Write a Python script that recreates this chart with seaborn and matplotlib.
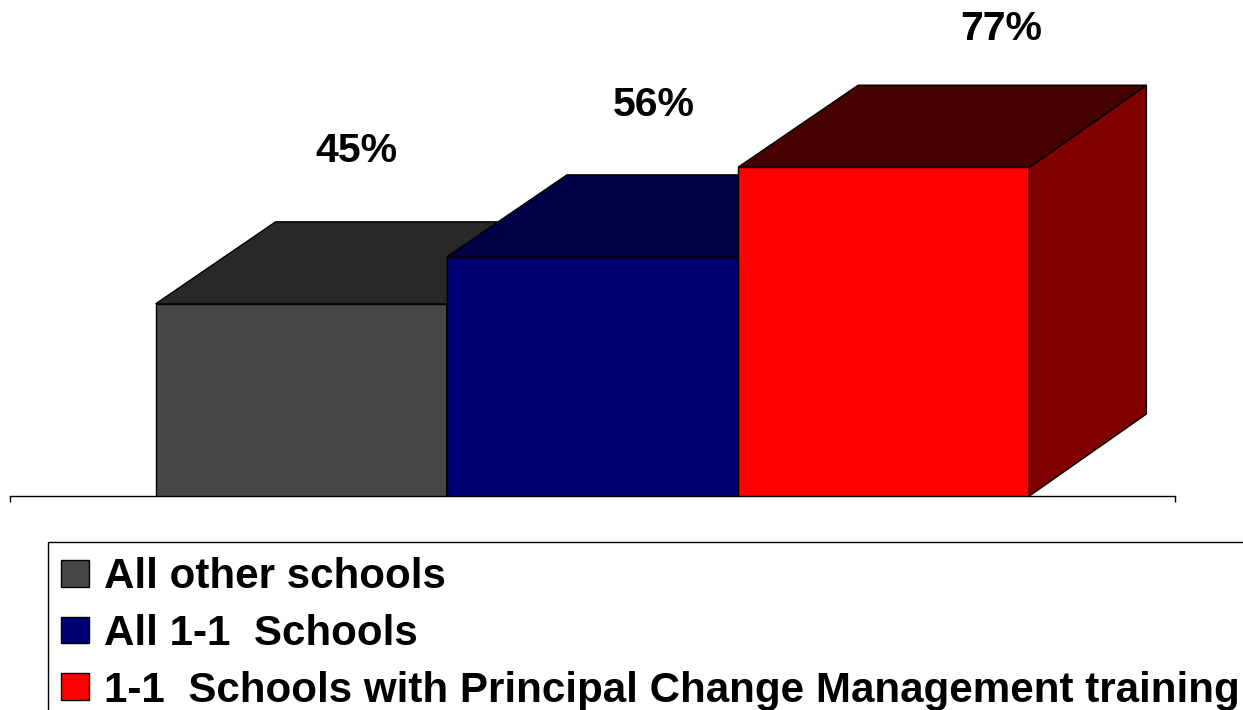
import pandas as pd
import matplotlib.pyplot as plt
from matplotlib.patches import Polygon, Rectangle
import seaborn as sns

# Values
groups = ["All other schools", "All 1-1  Schools", "1-1  Schools with Principal Change Management training"]
values = [45, 56, 77]
value_labels = ["45%", "56%", "77%"]

front_colors = ["#474747", "#000074", "#ff0000"]
top_colors = ["#282828", "#000047", "#470000"]
side_colors = ["#282828", "#000047", "#800000"]

W, H = 1243, 710

sns.set_style("white")
plt.rcParams["font.family"] = ["Liberation Sans", "DejaVu Sans"]
plt.rcParams["font.weight"] = "bold"
plt.rcParams["text.color"] = "black"

fig = plt.figure(figsize=(W / 100, H / 100), dpi=100)
# Axis line runs from x=10 to x=1175, baseline at y=496
ax = fig.add_axes([10 / W, (H - 496) / H, 1165 / W, 496 / H])
ax.patch.set_alpha(0)

df = pd.DataFrame({"cat": ["all"] * 3, "group": groups, "value": values})
sns.barplot(data=df, x="cat", y="value", hue="group", hue_order=groups, palette=front_colors,
            width=0.75, gap=0, saturation=1, edgecolor="black", linewidth=1, ax=ax)

ax.set_xlim(-0.5, 0.5)
ax.set_ylim(0, 496 / 4.27)
ax.set_xlabel("")
ax.set_ylabel("")
ax.set_yticks([])
ax.set_xticks([-0.5, 0.5])
ax.set_xticklabels(["", ""])
ax.tick_params(axis="x", direction="out", length=4, width=1, color="black", bottom=True)
for name in ["top", "left", "right"]:
    ax.spines[name].set_visible(False)
ax.spines["bottom"].set_linewidth(1)
ax.spines["bottom"].set_color("black")

# Fake 3D depth, same offset for every bar (back left corner sits a bit further over)
depth_x = 117 / 1165
depth_x_left = 120 / 1165
depth_y = 82 / 4.27
label_offsets = [(55, 71), (61, 70), (118, 56)]

bars = [p for c in ax.containers for p in c]
for i, bar in enumerate(bars):
    x0, w, h = bar.get_x(), bar.get_width(), bar.get_height()
    bar.set_zorder(3 + i)
    top = Polygon([(x0, h), (x0 + w, h), (x0 + w + depth_x, h + depth_y), (x0 + depth_x_left, h + depth_y)],
                  closed=True, facecolor=top_colors[i], edgecolor="black", linewidth=1, zorder=3 + i)
    side = Polygon([(x0 + w, 0), (x0 + w + depth_x, depth_y), (x0 + w + depth_x, h + depth_y), (x0 + w, h)],
                   closed=True, facecolor=side_colors[i], edgecolor="black", linewidth=1, zorder=3 + i)
    ax.add_patch(side)
    ax.add_patch(top)
    dx, dy = label_offsets[i]
    ax.annotate(value_labels[i], xy=(x0 + w / 2, h + depth_y), xytext=(dx * 0.72, dy * 0.72),
                textcoords="offset points", ha="center", va="center", fontsize=29.5, fontweight="bold",
                color="black", zorder=10, annotation_clip=False)

# Legend box runs off the right and bottom edges of the picture
fig.add_artist(Rectangle((48 / W, -0.05), 1.0, (H - 542) / H + 0.05, transform=fig.transFigure,
                         facecolor="none", edgecolor="black", linewidth=1))

sns.move_legend(ax, "upper left", bbox_to_anchor=(61 / W, (H - 557) / H), bbox_transform=fig.transFigure,
                title=None, frameon=False, fontsize=30.3, borderpad=0, borderaxespad=0,
                handlelength=0.67, handleheight=0.6, handletextpad=0.34, labelspacing=0.4, ncol=1)
for text in ax.get_legend().get_texts():
    text.set_color("black")

fig.savefig("out.png", dpi=100)
